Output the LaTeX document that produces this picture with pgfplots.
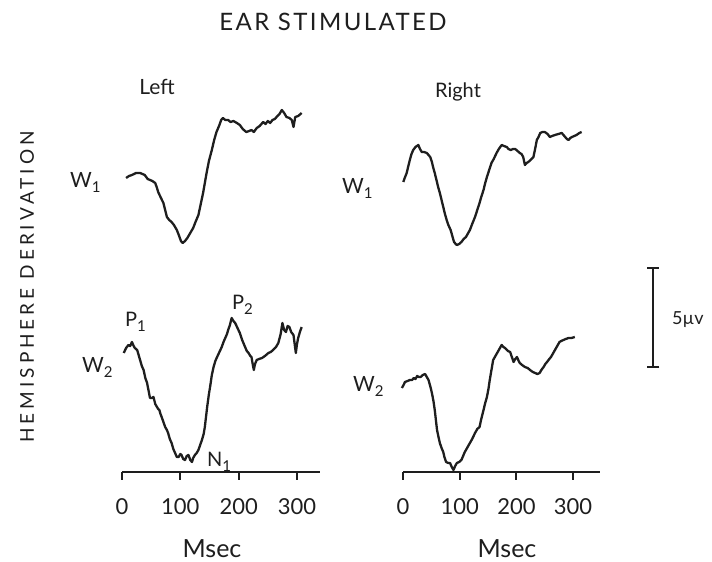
\documentclass[border=0pt]{standalone}
\usepackage{pgfplots}
\pgfplotsset{compat=1.18}
\usepackage{fontspec}
\setmainfont{Lato}
\newcommand{\sub}[1]{\raisebox{-0.45ex}{\fontsize{15}{15}\selectfont #1}}
\definecolor{ink}{HTML}{1E1E1E}
\pgfplotsset{
  trace/.style={draw=ink, line width=2.3pt, mark=none, line join=round},
  panel/.style={
    anchor=south west, scale only axis, clip=false,
    height=400pt, ymin=0, ymax=400,
    axis x line=bottom, axis y line=none,
    axis line style={-, line width=2pt, ink},
    xtick={0,100,200,300},
    xtick align=outside, major tick length=8pt,
    tick style={line width=2pt, ink},
    xticklabel style={font=\fontsize{22}{22}\selectfont, anchor=base, yshift=-34pt, text=ink},
    /pgf/number format/assume math mode=true,
  }
}
\begin{document}
\begin{tikzpicture}[x=1pt,y=1pt]
\path (0,0) rectangle (712,562);
% Left column
\begin{axis}[panel, at={(122pt,90pt)}, width=198.33pt, xmin=0, xmax=340]
% W1 left
\addplot[trace] coordinates {(7,294) (12,296) (17,297) (24,299) (31,299) (35,298) (39,297) (44,293) (48,292) (52,291) (57,289) (60,284) (62,280) (66,275) (71,269) (74,262) (77,255) (81,252) (85,250) (89,247) (94,242) (98,236) (101,231) (104,229) (108,231) (112,234) (117,239) (122,244) (126,250) (131,257) (135,268) (139,279) (142,289) (145,299) (149,311) (154,322) (158,332) (162,340) (167,347) (170,352) (173,354) (177,352) (182,352) (186,350) (191,351) (197,349) (202,347) (207,343) (213,340) (218,341) (222,342) (226,340) (231,344) (236,346) (242,350) (246,348) (250,351) (254,349) (258,352) (262,353) (265,355) (270,358) (274,362) (278,359) (282,355) (287,354) (291,352) (294,345) (297,355) (302,356) (308,359)};
% W2 left
\addplot[trace] coordinates {(3,119) (7,124) (11,127) (14,126) (17,130) (20,126) (22,124) (26,122) (29,116) (31,112) (34,106) (37,102) (40,94) (43,89) (46,80) (48,74) (51,74) (54,75) (57,68) (60,65) (62,63) (64,62) (66,58) (68,55) (71,50) (74,45) (77,42) (79,39) (82,33) (85,29) (88,23) (91,19) (94,15) (97,15) (100,18) (102,17) (105,13) (108,12) (111,16) (114,17) (117,12) (120,10) (122,14) (125,17) (128,19) (131,22) (134,27) (137,32) (140,38) (142,45) (144,55) (146,65) (149,78) (151,85) (154,97) (157,105) (160,111) (163,115) (167,120) (171,125) (174,130) (177,134) (180,138) (182,142) (185,147) (188,154) (191,151) (194,149) (198,144) (202,139) (206,132) (211,125) (214,121) (217,119) (220,116) (222,115) (224,108) (226,102) (228,108) (231,112) (235,113) (240,114) (245,116) (251,119) (255,120) (259,122) (264,125) (268,129) (272,138) (275,149) (278,142) (281,140) (284,146) (287,145) (290,140) (294,137) (296,128) (298,119) (300,128) (302,134) (305,140) (308,145)};
\end{axis}
% Right column
\begin{axis}[panel, at={(403pt,90pt)}, width=196.75pt, xmin=0, xmax=347]
% W1 right
\addplot[trace] coordinates {(0.5,290) (3,294) (6.5,299) (9,305) (12,312) (15,318) (18,322) (22,325) (27,327) (30,323) (33,320) (37,320) (42,319) (45,317) (48,315) (51,310) (53,305) (56,299) (59,292) (62,285) (65,279) (68,272) (71,265) (74,258) (77,252) (80,247) (84,242) (87,236) (90,230) (93,228) (95,227) (99,228) (103,230) (107,233) (111,235) (115,239) (118,242) (122,248) (127,255) (131,262) (135,269) (138,275) (142,282) (145,289) (148,295) (152,302) (156,309) (160,313) (165,319) (169,323) (174,327) (178,326) (183,325) (186,323) (190,322) (194,323) (198,323) (202,321) (206,319) (209,318) (212,315) (215,307) (218,309) (221,310) (225,312) (230,315) (233,323) (236,332) (239,335) (242,339) (246,340) (250,340) (255,338) (259,335) (263,336) (268,337) (274,338) (280,339) (283,337) (286,335) (289,333) (292,332) (295,334) (298,335) (302,336) (306,337) (311,339) (315,340)};
% W2 right
\addplot[trace] coordinates {(-2,84) (1,87) (3.5,90) (8,91) (12,92) (16,92) (19,94) (22,93) (25,96) (28,95) (31,95) (35,97) (39,98) (42,95) (45,92) (48,86) (51,79) (54,70) (56,62) (58,52) (60,42) (63,34) (65,29) (68,24) (71,20) (73,15) (76,10) (80,9) (83,9) (86,5) (89,2) (92,6) (95,9) (99,10) (103,12) (106,16) (109,20) (113,24) (118,29) (122,33) (127,39) (131,43) (135,45) (138,53) (142,62) (145,69) (148,75) (151,84) (153,92) (156,102) (159,112) (162,115) (166,119) (170,123) (174,127) (177,125) (180,124) (185,121) (189,120) (192,115) (195,110) (198,113) (201,115) (204,111) (206,109) (210,107) (215,105) (220,104) (224,102) (229,100) (233,99) (237,98) (241,99) (244,102) (248,105) (251,108) (254,110) (258,113) (261,115) (265,119) (268,122) (272,126) (276,130) (279,131) (283,132) (287,133) (292,134) (297,134) (303,135)};
% 5 microvolt scale bar
\addplot[only marks, mark=*, mark size=0.1pt, ink, error bars/.cd, y dir=both, y explicit,
  error bar style={line width=1.6pt, ink},
  error mark options={rotate=90, mark size=6pt, line width=1.6pt, ink}]
  coordinates {(441.4,154.5) +- (0,49.3)};
\end{axis}
% Texts
\node[text=ink, inner sep=0pt, font=\fontsize{24}{24}\selectfont\addfontfeature{LetterSpace=10}] at (333,540) {EAR STIMULATED};
\node[text=ink, inner sep=0pt, rotate=90, font=\fontsize{19}{19}\selectfont\addfontfeature{LetterSpace=21}] at (27,275) {HEMISPHERE DERIVATION};
\node[text=ink, anchor=base, inner sep=0pt, font=\fontsize{21}{21}\selectfont] at (157,467) {Left};
\node[text=ink, anchor=base, inner sep=0pt, font=\fontsize{20}{20}\selectfont] at (458,464) {Right};
\node[text=ink, anchor=base west, inner sep=0pt, font=\fontsize{21}{21}\selectfont] at (70,374) {W\sub{1}};
\node[text=ink, anchor=base west, inner sep=0pt, font=\fontsize{21}{21}\selectfont] at (342,368) {W\sub{1}};
\node[text=ink, anchor=base west, inner sep=0pt, font=\fontsize{21}{21}\selectfont] at (82,189) {W\sub{2}};
\node[text=ink, anchor=base west, inner sep=0pt, font=\fontsize{21}{21}\selectfont] at (353,170) {W\sub{2}};
\node[text=ink, anchor=base west, inner sep=0pt, font=\fontsize{20}{20}\selectfont] at (125,235) {P\sub{1}};
\node[text=ink, anchor=base west, inner sep=0pt, font=\fontsize{20}{20}\selectfont] at (232,252) {P\sub{2}};
\node[text=ink, anchor=base west, inner sep=0pt, font=\fontsize{20}{20}\selectfont] at (207,95) {N\sub{1}};
\node[text=ink, anchor=base west, inner sep=0pt, font=\fontsize{18}{18}\selectfont] at (672,237) {5µv};
\node[text=ink, anchor=base, inner sep=0pt, font=\fontsize{25}{25}\selectfont] at (212,4) {Msec};
\node[text=ink, anchor=base, inner sep=0pt, font=\fontsize{25}{25}\selectfont] at (507,4) {Msec};
\end{tikzpicture}
\end{document}
